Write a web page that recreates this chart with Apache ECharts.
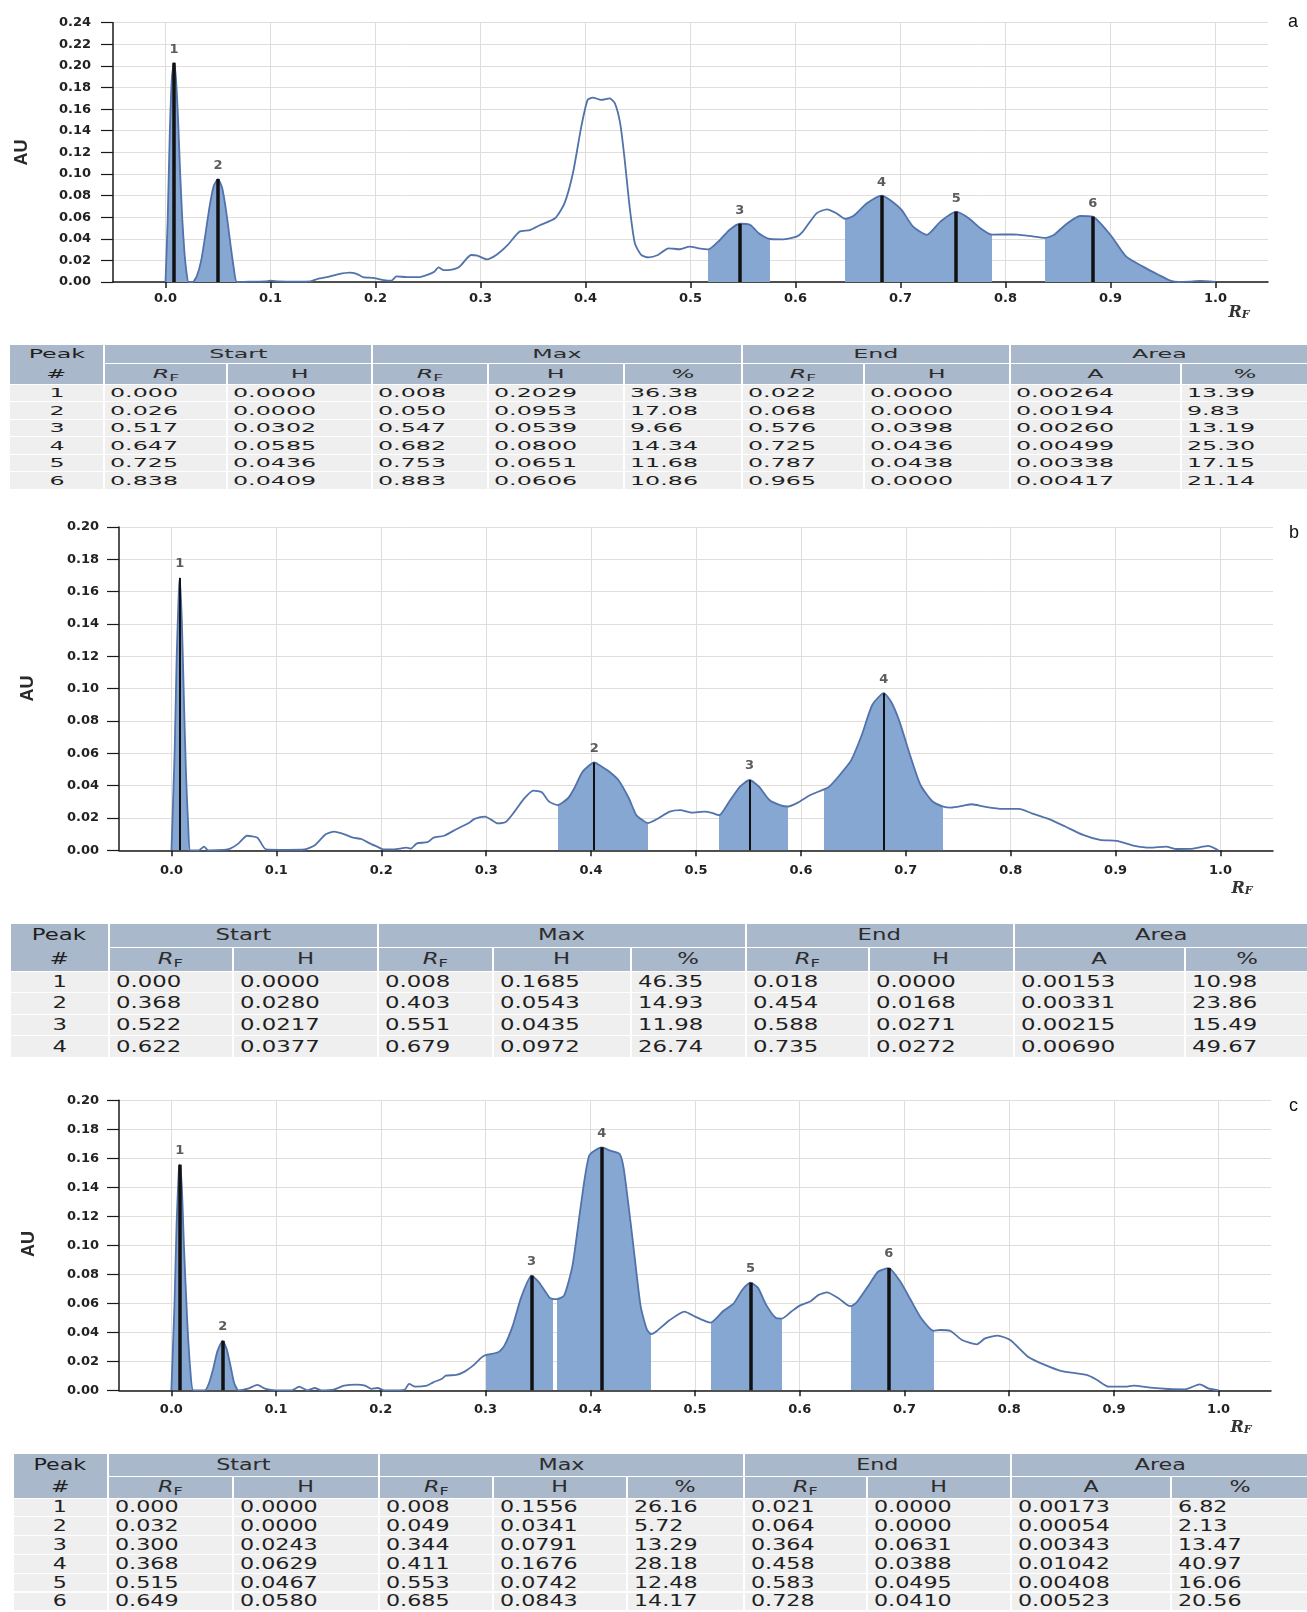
<!DOCTYPE html>
<html>
<head>
<meta charset="utf-8">
<title>TLC densitograms</title>
<script src="https://cdn.jsdelivr.net/npm/echarts@6.0.0/dist/echarts.min.js"></script>
<style>
  html, body { margin: 0; padding: 0; background: #fff; }
  body { width: 1307px; height: 1612px; position: relative; overflow: hidden; font-family: "DejaVu Sans", Verdana, sans-serif; }
  .chart { position: absolute; left: 0; width: 1307px; }
  .tbl { position: absolute; left: 0; top: 0; width: 1307px; }
  .cell { position: absolute; box-sizing: border-box; white-space: nowrap; display: flex; align-items: center; color: #1f1f1f; }
  .cell span.t { display: inline-block; }
  .hd { background: #a9b8cb; color: #2c2c2c; }
  .dt { background: #efefef; }
  .txt { background: transparent; }
  .sub { font-size: 0.72em; position: relative; top: 0.3em; font-style: normal; }
</style>
</head>
<body>
<div id="chartA" class="chart" style="top:0px;height:330px"></div>
<div id="tableA" class="tbl"></div>
<div id="chartB" class="chart" style="top:500px;height:412px"></div>
<div id="tableB" class="tbl"></div>
<div id="chartC" class="chart" style="top:1060px;height:385px"></div>
<div id="tableC" class="tbl"></div>

<script>
// ---------- shared axis ticks ----------
const rfTicks = [0.0, 0.1, 0.2, 0.3, 0.4, 0.5, 0.6, 0.7, 0.8, 0.9, 1.0];

// ---------- track a ----------
const curveA = [
  [0.000,0],[0.002,0.055],[0.004,0.135],[0.006,0.188],[0.008,0.2029],[0.010,0.188],[0.012,0.150],[0.014,0.100],[0.016,0.058],[0.018,0.028],[0.020,0.009],[0.022,0],
  [0.026,0],[0.030,0.006],[0.034,0.020],[0.038,0.044],[0.042,0.070],[0.046,0.089],[0.050,0.0953],[0.054,0.087],[0.058,0.064],[0.062,0.034],[0.065,0.013],[0.068,0],
  [0.080,0.0003],[0.095,0.0005],[0.100,0.0012],[0.108,0.0005],[0.125,0.0003],[0.138,0.0005],[0.145,0.0030],[0.155,0.0048],[0.165,0.0072],[0.175,0.0086],[0.182,0.0076],[0.188,0.0045],[0.198,0.0038],[0.208,0.0018],[0.215,0.0012],[0.220,0.0052],[0.230,0.0045],[0.242,0.0046],[0.250,0.0068],[0.256,0.0095],[0.260,0.0135],[0.265,0.0110],[0.271,0.0112],[0.280,0.0142],[0.291,0.0250],[0.297,0.0244],[0.306,0.0210],[0.315,0.0250],[0.326,0.0343],[0.337,0.0466],[0.347,0.0481],[0.357,0.0528],[0.371,0.0590],[0.380,0.0728],[0.388,0.1006],[0.396,0.1438],[0.402,0.1685],[0.407,0.1707],[0.415,0.1685],[0.423,0.1700],[0.428,0.1654],[0.433,0.1470],[0.437,0.1160],[0.442,0.0698],[0.447,0.0358],[0.453,0.0250],[0.460,0.0228],[0.469,0.0250],[0.479,0.0312],[0.490,0.0303],[0.499,0.0327],[0.508,0.0312],[0.517,0.0302],[0.528,0.0389],[0.537,0.0481],[0.547,0.0539],[0.557,0.0528],[0.565,0.0451],[0.572,0.0410],[0.576,0.0398],[0.588,0.0395],[0.601,0.0420],[0.607,0.0466],[0.620,0.0636],[0.630,0.0673],[0.639,0.0636],[0.647,0.0585],[0.655,0.0610],[0.668,0.0728],[0.682,0.0800],[0.690,0.0759],[0.701,0.0667],[0.712,0.0512],[0.725,0.0436],[0.738,0.0559],[0.753,0.0651],[0.765,0.0590],[0.776,0.0497],[0.787,0.0438],[0.807,0.0441],[0.823,0.0426],[0.838,0.0409],[0.846,0.0435],[0.858,0.0537],[0.871,0.0611],[0.883,0.0606],[0.900,0.0435],[0.915,0.0234],[0.931,0.0142],[0.946,0.0065],[0.957,0.0012],[0.965,0],[0.975,0.0003],[0.985,0.0010],[1.000,0]
];
const startRfA = [0.000, 0.026, 0.517, 0.647, 0.725, 0.838];
const startHA  = [0.0000, 0.0000, 0.0302, 0.0585, 0.0436, 0.0409];
const peakRfA  = [0.008, 0.050, 0.547, 0.682, 0.753, 0.883];
const peakHA   = [0.2029, 0.0953, 0.0539, 0.0800, 0.0651, 0.0606];
const maxPctA  = [36.38, 17.08, 9.66, 14.34, 11.68, 10.86];
const endRfA   = [0.022, 0.068, 0.576, 0.725, 0.787, 0.965];
const endHA    = [0.0000, 0.0000, 0.0398, 0.0436, 0.0438, 0.0000];
const areaA    = [0.00264, 0.00194, 0.00260, 0.00499, 0.00338, 0.00417];
const areaPctA = [13.39, 9.83, 13.19, 25.30, 17.15, 21.14];

// ---------- track b ----------
const curveB = [
  [0.000,0],[0.003,0.060],[0.005,0.120],[0.007,0.160],[0.008,0.1685],[0.010,0.140],[0.012,0.090],[0.014,0.045],[0.016,0.015],[0.018,0],
  [0.026,0],[0.031,0.0023],[0.035,0],[0.050,0.0003],[0.056,0.0010],[0.064,0.0043],[0.072,0.0090],[0.082,0.0078],[0.090,0.0006],[0.110,0.0003],[0.127,0.0005],[0.137,0.0033],[0.147,0.0099],[0.155,0.0115],[0.165,0.0099],[0.173,0.0078],[0.181,0.0070],[0.189,0.0043],[0.196,0.0023],[0.202,0.0006],[0.212,0.0006],[0.224,0.0016],[0.228,0.0010],[0.234,0.0043],[0.244,0.0050],[0.250,0.0078],[0.260,0.0090],[0.272,0.0132],[0.283,0.0167],[0.289,0.0194],[0.299,0.0208],[0.305,0.0188],[0.311,0.0167],[0.319,0.0177],[0.327,0.0239],[0.335,0.0311],[0.345,0.0369],[0.353,0.0359],[0.360,0.0301],[0.368,0.0280],[0.378,0.0322],[0.384,0.0384],[0.392,0.0487],[0.403,0.0543],[0.410,0.0518],[0.418,0.0483],[0.426,0.0435],[0.436,0.0322],[0.443,0.0219],[0.450,0.0182],[0.454,0.0168],[0.463,0.0194],[0.475,0.0239],[0.485,0.0248],[0.496,0.0233],[0.508,0.0239],[0.515,0.0232],[0.522,0.0217],[0.532,0.0305],[0.542,0.0394],[0.551,0.0435],[0.560,0.0394],[0.570,0.0311],[0.580,0.0280],[0.588,0.0271],[0.597,0.0295],[0.609,0.0342],[0.622,0.0377],[0.627,0.0394],[0.637,0.0466],[0.648,0.0558],[0.658,0.0713],[0.668,0.0899],[0.679,0.0972],[0.686,0.0919],[0.694,0.0796],[0.704,0.0589],[0.714,0.0404],[0.725,0.0305],[0.735,0.0272],[0.743,0.0264],[0.755,0.0276],[0.763,0.0285],[0.775,0.0270],[0.792,0.0256],[0.808,0.0256],[0.820,0.0229],[0.836,0.0194],[0.852,0.0147],[0.869,0.0095],[0.885,0.0064],[0.901,0.0058],[0.917,0.0029],[0.933,0.0016],[0.948,0.0023],[0.958,0.0008],[0.974,0.0010],[0.988,0.0027],[0.998,0]
];
const startRfB = [0.000, 0.368, 0.522, 0.622];
const startHB  = [0.0000, 0.0280, 0.0217, 0.0377];
const peakRfB  = [0.008, 0.403, 0.551, 0.679];
const peakHB   = [0.1685, 0.0543, 0.0435, 0.0972];
const maxPctB  = [46.35, 14.93, 11.98, 26.74];
const endRfB   = [0.018, 0.454, 0.588, 0.735];
const endHB    = [0.0000, 0.0168, 0.0271, 0.0272];
const areaB    = [0.00153, 0.00331, 0.00215, 0.00690];
const areaPctB = [10.98, 23.86, 15.49, 49.67];

// ---------- track c ----------
const curveC = [
  [0.000,0],[0.003,0.060],[0.005,0.115],[0.007,0.150],[0.008,0.1556],[0.010,0.140],[0.012,0.100],[0.015,0.050],[0.018,0.015],[0.021,0],
  [0.032,0],[0.036,0.005],[0.040,0.015],[0.044,0.027],[0.049,0.0341],[0.053,0.028],[0.057,0.015],[0.060,0.005],[0.064,0],
  [0.074,0.0014],[0.082,0.0037],[0.090,0.0010],[0.100,0],[0.115,0],[0.122,0.0025],[0.130,0],[0.137,0.0016],[0.143,0],[0.155,0.0005],[0.165,0.0032],[0.177,0.0039],[0.185,0.0032],[0.191,0.0010],[0.197,0.0016],[0.203,0],[0.217,0],[0.223,0.0005],[0.227,0.0044],[0.233,0.0025],[0.244,0.0032],[0.250,0.0055],[0.258,0.0078],[0.262,0.0101],[0.272,0.0106],[0.280,0.0129],[0.288,0.0170],[0.296,0.0225],[0.300,0.0243],[0.312,0.0262],[0.318,0.0308],[0.326,0.0446],[0.334,0.0641],[0.344,0.0791],[0.351,0.0745],[0.361,0.0639],[0.364,0.0631],[0.368,0.0629],[0.375,0.0653],[0.383,0.0860],[0.391,0.1274],[0.399,0.1619],[0.411,0.1676],[0.419,0.1653],[0.428,0.1630],[0.432,0.1527],[0.440,0.1067],[0.448,0.0584],[0.454,0.0420],[0.458,0.0388],[0.462,0.0400],[0.476,0.0485],[0.490,0.0543],[0.500,0.0508],[0.511,0.0474],[0.515,0.0467],[0.527,0.0547],[0.537,0.0600],[0.545,0.0692],[0.553,0.0742],[0.560,0.0708],[0.568,0.0589],[0.577,0.0500],[0.583,0.0495],[0.592,0.0543],[0.600,0.0584],[0.610,0.0612],[0.618,0.0658],[0.626,0.0676],[0.637,0.0635],[0.645,0.0590],[0.649,0.0580],[0.655,0.0612],[0.665,0.0715],[0.675,0.0819],[0.685,0.0843],[0.696,0.0750],[0.706,0.0623],[0.716,0.0497],[0.728,0.0410],[0.734,0.0416],[0.744,0.0409],[0.755,0.0347],[0.769,0.0317],[0.777,0.0358],[0.789,0.0377],[0.801,0.0347],[0.818,0.0232],[0.834,0.0175],[0.850,0.0133],[0.874,0.0106],[0.884,0.0071],[0.895,0.0025],[0.911,0.0025],[0.919,0.0032],[0.935,0.0018],[0.952,0.0009],[0.968,0.0007],[0.982,0.0041],[0.990,0.0014],[1.000,0]
];
const startRfC = [0.000, 0.032, 0.300, 0.368, 0.515, 0.649];
const startHC  = [0.0000, 0.0000, 0.0243, 0.0629, 0.0467, 0.0580];
const peakRfC  = [0.008, 0.049, 0.344, 0.411, 0.553, 0.685];
const peakHC   = [0.1556, 0.0341, 0.0791, 0.1676, 0.0742, 0.0843];
const maxPctC  = [26.16, 5.72, 13.29, 28.18, 12.48, 14.17];
const endRfC   = [0.021, 0.064, 0.364, 0.458, 0.583, 0.728];
const endHC    = [0.0000, 0.0000, 0.0631, 0.0388, 0.0495, 0.0410];
const areaC    = [0.00173, 0.00054, 0.00343, 0.01042, 0.00408, 0.00523];
const areaPctC = [6.82, 2.13, 13.47, 40.97, 16.06, 20.56];

// ---------- drawing ----------
const LINE_COLOR = '#5172aa';
const FILL_COLOR = '#87a7d3';
const TEXT_COLOR = '#222';
const GRID_COLOR = '#e2ddd9';
const FONT = '"DejaVu Sans", Verdana, sans-serif';

function densitogram(el, d, L) {
  const chart = echarts.init(el, null, { renderer: 'canvas' });
  const peaks = d.peakRf.map((r, i) => [r, d.peakH[i], i + 1]);
  chart.setOption({
    animation: false,
    grid: { left: L.left, top: L.top, width: L.width, height: L.height, containLabel: false, outerBoundsMode: 'none' },
    xAxis: {
      type: 'value', min: -0.05, max: 1.05,
      axisLine: { show: true, onZero: false, lineStyle: { color: '#1a1a1a', width: 1.5 } },
      axisTick: { show: true, inside: false, length: 6, customValues: rfTicks, lineStyle: { color: '#1a1a1a', width: 1.5 } },
      axisLabel: { customValues: rfTicks, formatter: v => v.toFixed(1), margin: L.xMargin,
                   color: TEXT_COLOR, fontFamily: FONT, fontWeight: 'bold', fontSize: 13 },
      splitLine: { show: true, lineStyle: { color: GRID_COLOR, width: 1 } }
    },
    yAxis: {
      type: 'value', min: 0, max: d.yMax, interval: 0.02,
      axisLine: { show: true, onZero: false, lineStyle: { color: '#1a1a1a', width: 1.5 } },
      axisTick: { show: true, length: 12, lineStyle: { color: '#1a1a1a', width: 1.2 } },
      axisLabel: { formatter: v => v.toFixed(2), margin: L.yMargin,
                   color: TEXT_COLOR, fontFamily: FONT, fontWeight: 'bold', fontSize: 13 },
      splitLine: { show: true, lineStyle: { color: GRID_COLOR, width: 1 } }
    },
    visualMap: {
      type: 'piecewise', show: false, dimension: 0, seriesIndex: 0,
      pieces: d.startRf.map((s, i) => ({ gte: s, lte: d.endRf[i], color: FILL_COLOR })),
      outOfRange: { color: 'rgba(0,0,0,0)' }
    },
    series: [
      { // integrated peak regions
        type: 'line', data: d.curve, smooth: 0.2, showSymbol: false, silent: true, z: 1,
        lineStyle: { width: 0, opacity: 0 },
        areaStyle: { opacity: 1 }
      },
      { // densitogram trace
        type: 'line', data: d.curve, smooth: 0.2, showSymbol: false, silent: true, z: 3,
        lineStyle: { color: LINE_COLOR, width: 1.8 }
      },
      { // peak maxima with their numbers
        type: 'scatter', data: peaks, symbolSize: 1, silent: true, z: 4,
        itemStyle: { color: 'rgba(0,0,0,0)' },
        label: { show: true, position: 'top', distance: L.labelDist, formatter: p => String(p.value[2]),
                 color: '#333', fontFamily: FONT, fontWeight: 'bold', fontSize: 13 },
        markLine: {
          silent: true, animation: false, symbol: ['none', 'none'], label: { show: false },
          lineStyle: { color: '#111', width: L.peakWidth, type: 'solid' },
          emphasis: { disabled: true },
          data: peaks.map(p => [{ coord: [p[0], 0] }, { coord: [p[0], p[1]] }])
        }
      }
    ],
    graphic: [
      { type: 'text', x: L.auX, y: L.auY, rotation: Math.PI / 2,
        style: { text: 'AU', fill: '#2a2a2a', font: 'bold 18px "Liberation Sans", Arial, sans-serif', align: 'center', verticalAlign: 'middle' } },
      { type: 'text', x: L.rfX, y: L.rfY,
        style: { text: '{r|R}{f|F}', align: 'center', verticalAlign: 'middle',
                 rich: { r: { fontFamily: '"DejaVu Serif", serif', fontStyle: 'italic', fontWeight: 'bold', fontSize: 16, fill: '#333' },
                         f: { fontFamily: '"DejaVu Serif", serif', fontStyle: 'italic', fontWeight: 'bold', fontSize: 11, fill: '#333', padding: [4, 0, 0, 0] } } } },
      { type: 'text', x: L.tagX, y: L.tagY,
        style: { text: L.tag, fill: '#111', font: '18px "Liberation Sans", Arial, sans-serif', align: 'center', verticalAlign: 'middle' } }
    ]
  });
  return chart;
}

densitogram(document.getElementById('chartA'),
  { curve: curveA, startRf: startRfA, endRf: endRfA, peakRf: peakRfA, peakH: peakHA, yMax: 0.24 },
  { left: 113, top: 22.7, width: 1155, height: 259.3, xMargin: 10, yMargin: 22, labelDist: 6, peakWidth: 3.5,
    auX: 22.5, auY: 152.5, rfX: 1239, rfY: 313, tag: 'a', tagX: 1293, tagY: 22 });

densitogram(document.getElementById('chartB'),
  { curve: curveB, startRf: startRfB, endRf: endRfB, peakRf: peakRfB, peakH: peakHB, yMax: 0.20 },
  { left: 119, top: 27, width: 1154, height: 323.3, xMargin: 14, yMargin: 20, labelDist: 7, peakWidth: 2,
    auX: 28, auY: 188.5, rfX: 1242, rfY: 389, tag: 'b', tagX: 1294, tagY: 33 });

densitogram(document.getElementById('chartC'),
  { curve: curveC, startRf: startRfC, endRf: endRfC, peakRf: peakRfC, peakH: peakHC, yMax: 0.20 },
  { left: 119, top: 40.3, width: 1152, height: 290, xMargin: 13, yMargin: 20, labelDist: 7, peakWidth: 3.5,
    auX: 29, auY: 184, rfX: 1241, rfY: 368, tag: 'c', tagX: 1293.5, tagY: 46 });

// ---------- peak tables ----------
function peakTable(el, d, L) {
  const out = [];
  const c = L.cols;
  const yA = L.top, yB = yA + L.h1, yC = yB + L.h2;
  const cell = (x0, x1, y0, y1, cls, content, align) => {
    const left = align === 'left';
    out.push('<div class="cell ' + cls + '" style="left:' + (x0 + 1) + 'px;width:' + (x1 - x0 - 2) + 'px;top:' + (y0 + 0.5) +
      'px;height:' + (y1 - y0 - 1) + 'px;font-size:' + L.fontSize + 'px;justify-content:' + (left ? 'flex-start' : 'center') +
      ';' + (left ? 'padding-left:' + L.pad + 'px;' : '') + '">' +
      (content === '' ? '' : '<span class="t" style="transform:scaleX(' + L.kx + ');transform-origin:' + (left ? 'left' : 'center') + ' center">' + content + '</span>') +
      '</div>');
  };
  const RF = '<i>R</i><span class="sub">F</span>';
  // header
  cell(c[0], c[1], yA, yC, 'hd', '', 'center');
  cell(c[0], c[1], yA, yB, 'txt', 'Peak', 'center');
  cell(c[0], c[1], yB, yC, 'txt', '#', 'center');
  [['Start', 1, 3], ['Max', 3, 6], ['End', 6, 8], ['Area', 8, 10]].forEach(g => cell(c[g[1]], c[g[2]], yA, yB, 'hd', g[0], 'center'));
  [RF, 'H', RF, 'H', '%', RF, 'H', 'A', '%'].forEach((t, i) => cell(c[i + 1], c[i + 2], yB, yC, 'hd', t, 'center'));
  // rows
  d.peakRf.forEach((r, i) => {
    const y0 = yC + i * L.rowH, y1 = y0 + L.rowH;
    const vals = [String(i + 1), d.startRf[i].toFixed(3), d.startH[i].toFixed(4), r.toFixed(3), d.peakH[i].toFixed(4),
                  d.maxPct[i].toFixed(2), d.endRf[i].toFixed(3), d.endH[i].toFixed(4), d.area[i].toFixed(5), d.areaPct[i].toFixed(2)];
    vals.forEach((v, j) => cell(c[j], c[j + 1], y0, y1, 'dt', v, j === 0 ? 'center' : 'left'));
  });
  el.innerHTML = out.join('');
}

peakTable(document.getElementById('tableA'),
  { startRf: startRfA, startH: startHA, peakRf: peakRfA, peakH: peakHA, maxPct: maxPctA, endRf: endRfA, endH: endHA, area: areaA, areaPct: areaPctA },
  { cols: [9, 104, 227, 372, 488, 624, 742, 864, 1010, 1181, 1309], top: 344, h1: 19, h2: 21, rowH: 17.5, fontSize: 12.5, kx: 1.9, pad: 5 });

peakTable(document.getElementById('tableB'),
  { startRf: startRfB, startH: startHB, peakRf: peakRfB, peakH: peakHB, maxPct: maxPctB, endRf: endRfB, endH: endHB, area: areaB, areaPct: areaPctB },
  { cols: [10, 108.6, 232.7, 378, 493, 631, 745.5, 868.7, 1013.6, 1185.4, 1309], top: 923, h1: 24, h2: 24, rowH: 21.6, fontSize: 15, kx: 1.52, pad: 6 });

peakTable(document.getElementById('tableC'),
  { startRf: startRfC, startH: startHC, peakRf: peakRfC, peakH: peakHC, maxPct: maxPctC, endRf: endRfC, endH: endHC, area: areaC, areaPct: areaPctC },
  { cols: [12.5, 108, 233, 379, 493, 627, 744, 867, 1011, 1171, 1309], top: 1453, h1: 23, h2: 22, rowH: 18.8, fontSize: 15, kx: 1.48, pad: 6 });
</script>
</body>
</html>
